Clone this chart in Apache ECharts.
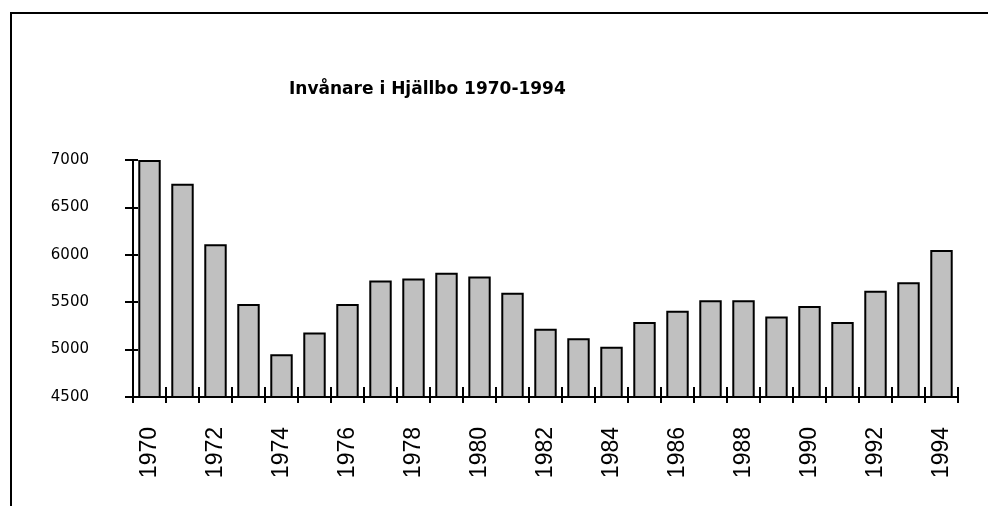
<!DOCTYPE html>
<html>
<head>
<meta charset="utf-8">
<title>Invånare i Hjällbo 1970-1994</title>
<script src="https://cdn.jsdelivr.net/npm/echarts@6/dist/echarts.min.js"></script>
<style>
    html, body { margin: 0; padding: 0; background: #fff; }
    #chart { width: 988px; height: 506px; }
</style>
</head>
<body>
<div id="chart"></div>
<script>
// population per year
const years = ['1970', '1971', '1972', '1973', '1974', '1975', '1976', '1977', '1978',
    '1979', '1980', '1981', '1982', '1983', '1984', '1985', '1986', '1987', '1988',
    '1989', '1990', '1991', '1992', '1993', '1994'];
const residents = [7000, 6750, 6110, 5480, 4950, 5180, 5480, 5730, 5750,
    5810, 5770, 5600, 5220, 5120, 5030, 5290, 5410, 5520, 5520,
    5350, 5460, 5290, 5620, 5710, 6050];
const yTicks = [4500, 5000, 5500, 6000, 6500, 7000];

const titleText = 'Invånare i Hjällbo 1970-1994';

const chart = echarts.init(document.getElementById('chart'));

const axisLine = { show: true, lineStyle: { color: '#000', width: 2 } };

let barOption = {
    animation: false,
    backgroundColor: '#fff',
    title: {
        text: titleText,
        left: 284,
        top: 76,
        textStyle: {
            fontFamily: 'DejaVu Sans',
            fontWeight: 'bold',
            fontSize: 17,
            color: '#000'
        }
    },
    grid: {
        left: 133,
        right: 30,
        top: 160,
        bottom: 109,
        containLabel: false,
        outerBoundsMode: 'none'
    },
    xAxis: [
        {
            type: 'category',
            position: 'bottom',
            data: years,
            boundaryGap: true,
            axisLine: axisLine,
            axisTick: { show: true, length: 6, interval: 0, lineStyle: { color: '#000', width: 2 } },
            axisLabel: {
                interval: 1,
                rotate: 90,
                margin: 30,
                fontFamily: 'Liberation Sans',
                fontSize: 23,
                color: '#000'
            },
            splitLine: { show: false }
        },
        {
            // ticks reaching up into the plot
            type: 'category',
            position: 'bottom',
            data: years,
            boundaryGap: true,
            axisLine: { show: false },
            axisTick: { show: true, inside: true, length: 10, interval: 0, lineStyle: { color: '#000', width: 2 } },
            axisLabel: { show: false },
            splitLine: { show: false }
        }
    ],
    yAxis: [
        {
            type: 'value',
            position: 'left',
            min: yTicks[0],
            max: yTicks[yTicks.length - 1],
            interval: 500,
            axisLine: axisLine,
            axisTick: { show: true, length: 8, lineStyle: { color: '#000', width: 2 } },
            axisLabel: {
                margin: 44,
                fontFamily: 'DejaVu Sans',
                fontSize: 15,
                color: '#000',
                formatter: v => String(v)
            },
            splitLine: { show: false }
        },
        {
            type: 'value',
            position: 'left',
            min: yTicks[0],
            max: yTicks[yTicks.length - 1],
            interval: 500,
            axisLine: { show: false },
            axisTick: { show: true, inside: true, length: 5, lineStyle: { color: '#000', width: 2 } },
            axisLabel: { show: false },
            splitLine: { show: false }
        }
    ],
    series: [
        {
            name: titleText,
            type: 'bar',
            xAxisIndex: 0,
            yAxisIndex: 0,
            data: residents,
            barCategoryGap: '32%',
            itemStyle: {
                color: '#c0c0c0',
                borderColor: '#000',
                borderWidth: 2
            }
        }
    ],
    graphic: [
        {
            // the frame round the chart, open at the right and bottom
            type: 'polyline',
            silent: true,
            shape: { points: [[11, 506], [11, 13], [988, 13]] },
            style: { stroke: '#000', lineWidth: 2, fill: null }
        }
    ]
};

chart.setOption(barOption);
</script>
</body>
</html>
